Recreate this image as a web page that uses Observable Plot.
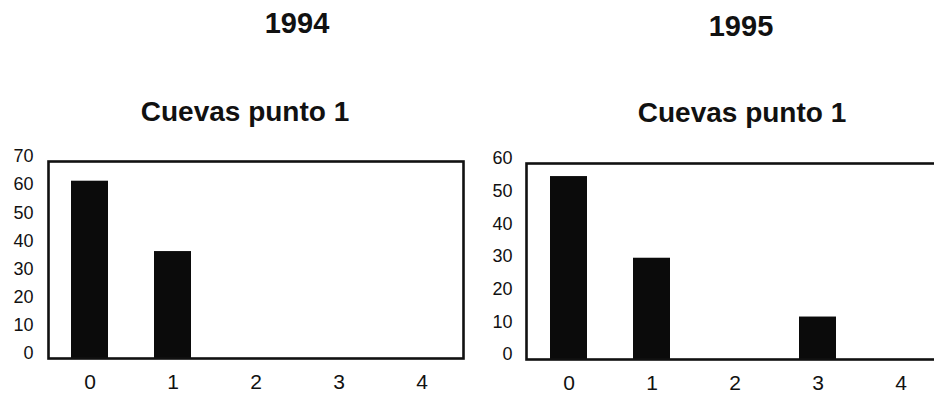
<!DOCTYPE html>
<html>
<head>
<meta charset="utf-8">
<script src="https://cdn.jsdelivr.net/npm/d3@7"></script>
<script src="https://cdn.jsdelivr.net/npm/@observablehq/plot@0.6"></script>
<style>
  html, body { margin:0; padding:0; background:#fff; overflow:hidden; width:934px; height:396px; }
  #root { position:relative; width:934px; height:396px; overflow:hidden; font-family:"Liberation Sans", Arial, sans-serif; }
  .t { position:absolute; line-height:1; font-weight:bold; color:#111; white-space:nowrap; transform:translateX(-50%); }
  .panel { position:absolute; }
</style>
</head>
<body>
<div id="root"></div>
<script>
const categories = ["0", "1", "2", "3", "4"];
const values1994 = [63, 38, 0, 0, 0];
const values1995 = [56, 31, 0, 13, 0];
const years = ["1994", "1995"];
const subtitle = "Cuevas punto 1";
const yTicks1994 = [0, 10, 20, 30, 40, 50, 60, 70];
const yTicks1995 = [0, 10, 20, 30, 40, 50, 60];

const root = document.getElementById("root");
function addText(txt, cx, top, size) {
  const d = document.createElement("div");
  d.className = "t";
  d.textContent = txt;
  d.style.left = cx + "px";
  d.style.top = top + "px";
  d.style.fontSize = size + "px";
  root.appendChild(d);
}

function panel(values, ticks, opts) {
  const data = categories.map((c, i) => ({cat: c, v: values[i]}));
  const chart = Plot.plot({
    width: opts.width,
    height: opts.height,
    marginLeft: opts.marginLeft,
    marginRight: opts.marginRight,
    marginTop: opts.marginTop,
    marginBottom: opts.marginBottom,
    style: {fontFamily: '"Liberation Sans", Arial, sans-serif', color: "#111", background: "transparent"},
    x: {domain: categories, paddingInner: 0.56, paddingOuter: 0.28, axis: null},
    y: {domain: [0, ticks[ticks.length - 1]], axis: null},
    marks: [
      Plot.barY(data, {x: "cat", y: "v", fill: "#0b0b0b"}),
      Plot.frame({stroke: "#111", strokeWidth: 2.6}),
      Plot.axisY({ticks: ticks, label: null, tickSize: 0, tickPadding: opts.yPad, dy: -5, fontSize: 18, tickFormat: d => String(d)}),
      Plot.axisX({label: null, tickSize: 0, tickPadding: 16, fontSize: 21})
    ]
  });
  chart.classList.add("panel");
  chart.style.left = opts.left + "px";
  chart.style.top = opts.top + "px";
  root.appendChild(chart);
}

panel(values1994, yTicks1994, {left: 0, top: 140, width: 470, height: 256, marginLeft: 48, marginRight: 7, marginTop: 21, marginBottom: 38, yPad: 15});
panel(values1995, yTicks1995, {left: 464, top: 140, width: 490, height: 256, marginLeft: 62, marginRight: 11, marginTop: 23, marginBottom: 37, yPad: 14});

addText(years[0], 297, 9, 29);
addText(years[1], 741, 12, 29);
addText(subtitle, 245, 98, 28);
addText(subtitle, 742, 99, 28);
</script>
</body>
</html>
